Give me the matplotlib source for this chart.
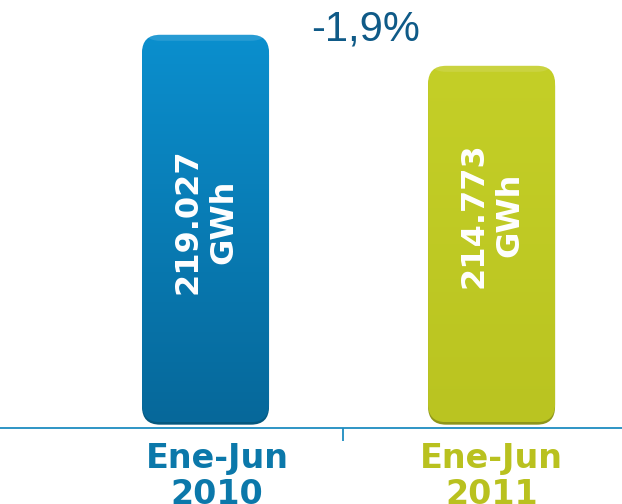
import numpy as np
import matplotlib
matplotlib.use("Agg")
import matplotlib.pyplot as plt
from matplotlib.patches import FancyBboxPatch
from matplotlib.colors import LinearSegmentedColormap

# ---- data ----
categories = ["Ene-Jun\n2010", "Ene-Jun\n2011"]
values = [219.027, 214.773]
value_labels = ["219.027\nGWh", "214.773\nGWh"]
change_label = "-1,9%"

# ---- styles ----
bar_top_colors = ["#0B8FCE", "#C4CF27"]
bar_bot_colors = ["#06689A", "#BAC421"]
rim_colors = ["#05587F", "#8E961A"]
cat_colors = ["#0B78AA", "#B9C11F"]
base = 165.9
ymin, ymax = 165.1, 223.8
xmin, xmax = -0.7185, 1.456
bar_width = 0.444

fig = plt.figure(figsize=(6.22, 5.04), dpi=100)
ax = fig.add_axes([0, 76 / 504, 1, 428 / 504])
ax.set_xlim(xmin, xmax)
ax.set_ylim(ymin, ymax)
ax.patch.set_visible(False)
for s in ["top", "left", "right"]:
    ax.spines[s].set_visible(False)
ax.spines["bottom"].set_color("#1E8CC0")
ax.spines["bottom"].set_linewidth(1.3)
ax.set_yticks([])
ax.set_xticks([0.48])
ax.set_xticklabels([""])
ax.tick_params(axis="x", direction="out", length=9.5, width=1.3, color="#1E8CC0")

x = np.arange(len(values))
bars = ax.bar(x, np.array(values) - base, bottom=base, width=bar_width)

fig.canvas.draw()
# px per data unit
px_x = ax.transData.transform((1, 0))[0] - ax.transData.transform((0, 0))[0]
px_y = ax.transData.transform((0, 1))[1] - ax.transData.transform((0, 0))[1]
aspect = px_x / px_y
radius_px = 18
r = radius_px / px_x

for i, b in enumerate(bars):
    b.set_visible(False)
    x0, y0 = b.get_x(), b.get_y()
    w, h = b.get_width(), b.get_height()
    # rim / shadow
    rim = FancyBboxPatch((x0, y0 - 2.5 / px_y), w, h,
                         boxstyle=f"round,pad=0,rounding_size={r}",
                         mutation_aspect=aspect, facecolor=rim_colors[i],
                         edgecolor="none", zorder=2)
    ax.add_patch(rim)
    patch = FancyBboxPatch((x0, y0), w, h,
                           boxstyle=f"round,pad=0,rounding_size={r}",
                           mutation_aspect=aspect, facecolor="none",
                           edgecolor="none", zorder=3)
    ax.add_patch(patch)
    cmap = LinearSegmentedColormap.from_list("g", [bar_bot_colors[i], bar_top_colors[i]])
    grad = np.linspace(0, 1, 256).reshape(-1, 1)
    im = ax.imshow(grad, cmap=cmap, extent=(x0, x0 + w, y0, y0 + h),
                   origin="lower", aspect="auto", zorder=3)
    im.set_clip_path(patch)
    # top highlight
    hl = FancyBboxPatch((x0, y0 + h - 6 / px_y), w, 6 / px_y,
                        boxstyle=f"round,pad=0,rounding_size={r}",
                        mutation_aspect=aspect, facecolor="white", alpha=0.12,
                        edgecolor="none", zorder=4)
    ax.add_patch(hl)
    ax.set_xlim(xmin, xmax)
    ax.set_ylim(ymin, ymax)

# value labels inside bars
label_y = [193.4, 194.3]
for i, b in enumerate(bars):
    ax.text(b.get_x() + b.get_width() / 2, label_y[i], value_labels[i],
            rotation=90, ha="center", va="center", multialignment="center",
            color="white", fontsize=23, fontweight="bold",
            family="DejaVu Sans", linespacing=1.2, zorder=6)

# category labels
cat_x = [0.04, 1.0]
for i, c in enumerate(categories):
    ax.text(cat_x[i], ymin - 14 / px_y, c, transform=ax.transData, ha="center",
            va="top", color=cat_colors[i], fontsize=24, fontweight="bold",
            family="DejaVu Sans", linespacing=1.12, clip_on=False)

# change label
ax.text(0.56, ymax - 30 / px_y, change_label, ha="center", va="center",
        color="#0F5A87", fontsize=30, family="Liberation Sans")

ax.set_xlim(xmin, xmax)
ax.set_ylim(ymin, ymax)
fig.savefig("out.png", dpi=100)
